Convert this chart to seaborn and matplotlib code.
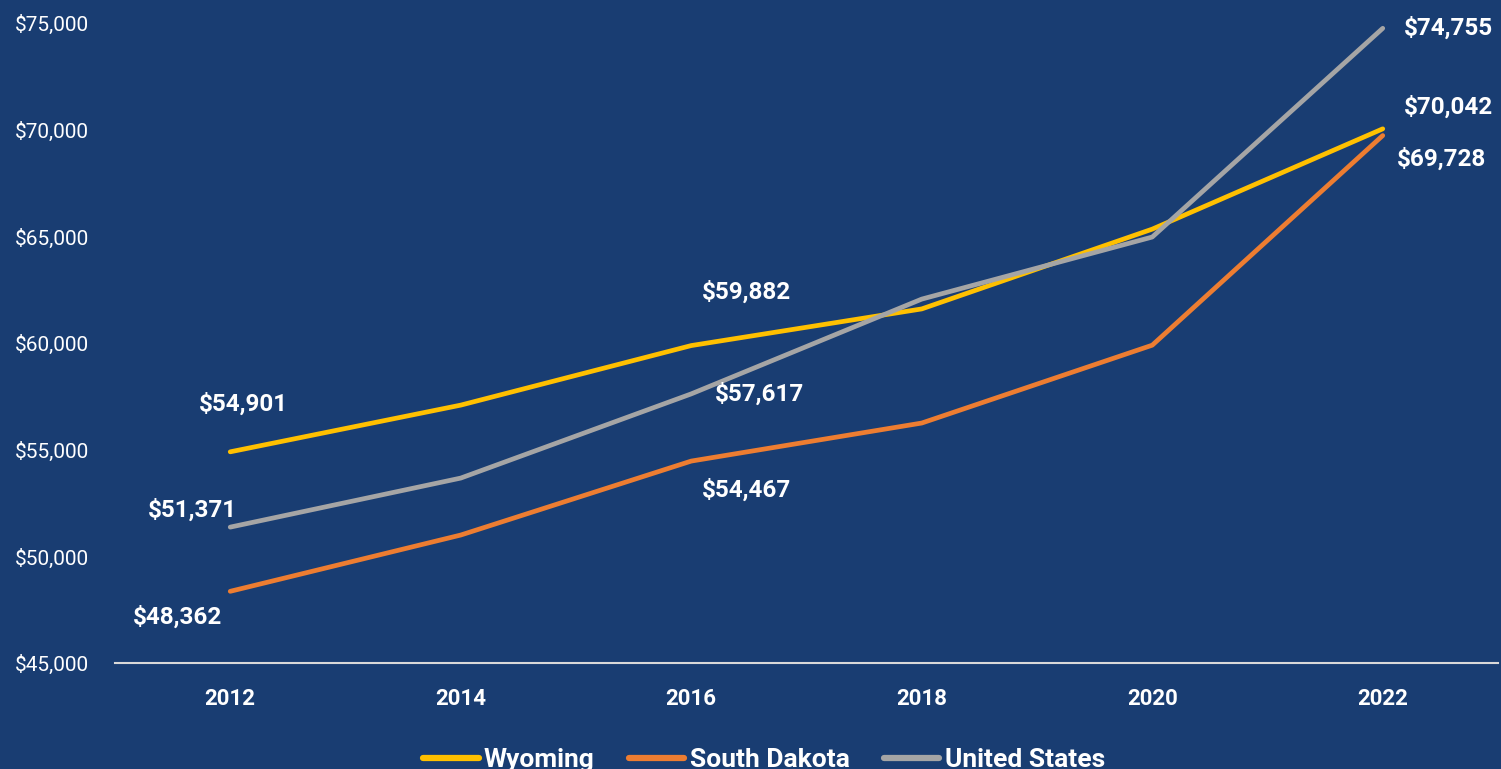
import pandas as pd
import matplotlib.pyplot as plt
import seaborn as sns

years = ["2012", "2014", "2016", "2018", "2020", "2022"]
wyoming = [54901, 57090, 59882, 61600, 65340, 70042]
south_dakota = [48362, 51000, 54467, 56250, 59900, 69728]
united_states = [51371, 53670, 57617, 62060, 64970, 74755]
series_names = ["Wyoming", "South Dakota", "United States"]
y_ticks = [45000, 50000, 55000, 60000, 65000, 70000, 75000]

BG = "#193D72"
palette = {"Wyoming": "#FFC000", "South Dakota": "#ED7D31", "United States": "#A5A5A5"}


def main():
    sns.set_style("white")
    plt.rcParams["font.family"] = ["Roboto", "DejaVu Sans"]

    df = pd.DataFrame({"Year": years * 3,
                       "Income": wyoming + south_dakota + united_states,
                       "Area": [n for n in series_names for _ in years]})

    fig = plt.figure(figsize=(15.01, 7.69), dpi=100, facecolor=BG)
    ax = fig.add_axes([0.0766, 0.1378, 0.9214, 0.8322])
    ax.set_facecolor(BG)

    sns.lineplot(data=df, x="Year", y="Income", hue="Area", palette=palette,
                 linewidth=3.4, ax=ax, sort=False, solid_capstyle="round")

    ax.set_xlim(-0.5, 5.5)
    ax.set_ylim(45000, 75000)
    ax.set_yticks(y_ticks)
    ax.set_yticklabels([f"${v:,}" for v in y_ticks], color="white", fontsize=15,
                       ha="left")
    ax.tick_params(axis="y", length=0, pad=72)
    ax.tick_params(axis="x", length=0, pad=18)
    for lab in ax.get_xticklabels():
        lab.set_color("white")
        lab.set_fontweight("bold")
        lab.set_fontsize(16)
    ax.set_xlabel("")
    ax.set_ylabel("")
    for side in ["top", "right", "left"]:
        ax.spines[side].set_visible(False)
    ax.spines["bottom"].set_color("#D9D9D9")
    ax.spines["bottom"].set_linewidth(1.5)

    # data labels: (series, year index, dx px, dy px)
    labels = [(wyoming, 0, 13, 48), (united_states, 0, -38, 17), (south_dakota, 0, -53, -26),
              (wyoming, 2, 55, 53), (united_states, 2, 68, 0), (south_dakota, 2, 55, -29),
              (united_states, 5, 66, 0), (wyoming, 5, 66, 22), (south_dakota, 5, 59, -24)]
    for vals, i, dx, dy in labels:
        ax.annotate(f"${vals[i]:,}", (i, vals[i]), xytext=(dx, dy),
                    textcoords="offset pixels", ha="center", va="center",
                    color="white", fontsize=17.5, fontweight="bold")

    handles, names = ax.get_legend_handles_labels()
    leg = ax.legend(handles, names, loc="center", bbox_to_anchor=(0.509, 0.012),
                    bbox_transform=fig.transFigure, ncol=3, frameon=False,
                    fontsize=19, handlelength=2.1, handletextpad=0.2,
                    columnspacing=1.3, borderaxespad=0, borderpad=0)
    for t in leg.get_texts():
        t.set_color("white")
        t.set_fontweight("bold")
    for h in leg.get_lines():
        h.set_linewidth(4.5)

    fig.savefig("out.png", dpi=100, facecolor=BG)
    plt.close(fig)


if __name__ == "__main__":
    main()
